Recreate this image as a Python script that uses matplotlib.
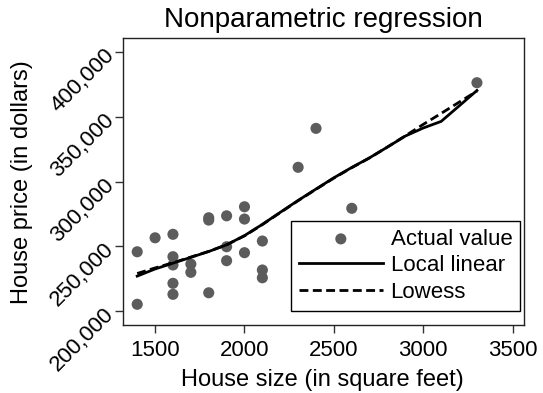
import numpy as np
import matplotlib
matplotlib.use("Agg")
import matplotlib.pyplot as plt
from matplotlib.ticker import FuncFormatter

plt.rcParams['font.family'] = ['Liberation Sans', 'DejaVu Sans']

# Observed houses: floor size (sq ft) and sale price (dollars)
size_sqft = [1400, 1400, 1500, 1600, 1600, 1600, 1600, 1600,
             1700, 1700, 1800, 1800, 1800, 1900, 1900, 1900,
             2000, 2000, 2000, 2100, 2100, 2100, 2300, 2400, 2600, 3300]
price = [245800, 205200, 256600, 259300, 242000, 235600, 221400, 212900,
         236300, 229900, 272100, 270300, 214100, 273600, 249700, 238900,
         280600, 271100, 245100, 254100, 231700, 225700, 311100, 341200, 279400, 376500]

# Fitted curves evaluated on a grid of house sizes
grid_sqft = [1400, 1500, 1600, 1700, 1800, 1900, 2000, 2100, 2200, 2300,
             2400, 2500, 2600, 2700, 2800, 2900, 3000, 3100, 3200, 3300]
local_linear = [227000, 232500, 237000, 241500, 246000, 251200, 258300, 267000, 276300, 285500,
                294300, 303000, 311000, 318500, 326800, 335300, 341500, 346600, 358500, 370500]
lowess = [229000, 233300, 237300, 241700, 246100, 251200, 258100, 266800, 276100, 285300,
          294100, 302800, 310800, 318400, 326800, 335500, 344300, 352800, 361400, 370000]

fig = plt.figure(figsize=(5.43, 3.93), dpi=100)
ax = fig.add_axes([0.226, 0.173, 0.7396, 0.7295])

ax.scatter(size_sqft, price, s=64, color='#5c5c5c', edgecolors='none',
           label='Actual value', zorder=2)
ax.plot(grid_sqft, local_linear, color='black', lw=2.0, label='Local linear', zorder=3)
ax.plot(grid_sqft, lowess, color='black', lw=2.0, ls=(0, (3.2, 1.6)), label='Lowess', zorder=3)

ax.set_xlim(1319, 3565)
ax.set_ylim(189180, 410820)
ax.set_xticks([1500, 2000, 2500, 3000, 3500])
ax.set_yticks([200000, 250000, 300000, 350000, 400000])
ax.yaxis.set_major_formatter(FuncFormatter(lambda v, p: f"{int(v):,}"))

ax.tick_params(axis='both', direction='out', length=6, width=1.0,
               color='#333333', labelsize=16)
ax.tick_params(axis='x', pad=5)
ax.tick_params(axis='y', pad=2.5)
for lab in ax.get_yticklabels():
    lab.set_rotation(45)
    lab.set_rotation_mode('anchor')
    lab.set_ha('right')
    lab.set_va('center')
for sp in ax.spines.values():
    sp.set_linewidth(1.0)
    sp.set_color('#222222')

ax.set_xlabel('House size (in square feet)', fontsize=17, va='center')
ax.xaxis.set_label_coords(0.497, -0.192)
ax.set_ylabel('House price (in dollars)', fontsize=17, va='center')
ax.yaxis.set_label_coords(-0.25, 0.5)

ax.text(0.5, 1.0405, 'Nonparametric regression', transform=ax.transAxes,
        ha='center', va='baseline', fontsize=20)

leg = ax.legend(loc='upper left', bbox_to_anchor=(0.42, 0.363), fontsize=16,
                handlelength=3.75, handletextpad=0.36, borderpad=0.35,
                labelspacing=0.25, fancybox=False, framealpha=1,
                borderaxespad=0, scatterpoints=1)
leg.get_frame().set_edgecolor('black')
leg.get_frame().set_linewidth(1.0)

fig.savefig('out.png', dpi=100)
